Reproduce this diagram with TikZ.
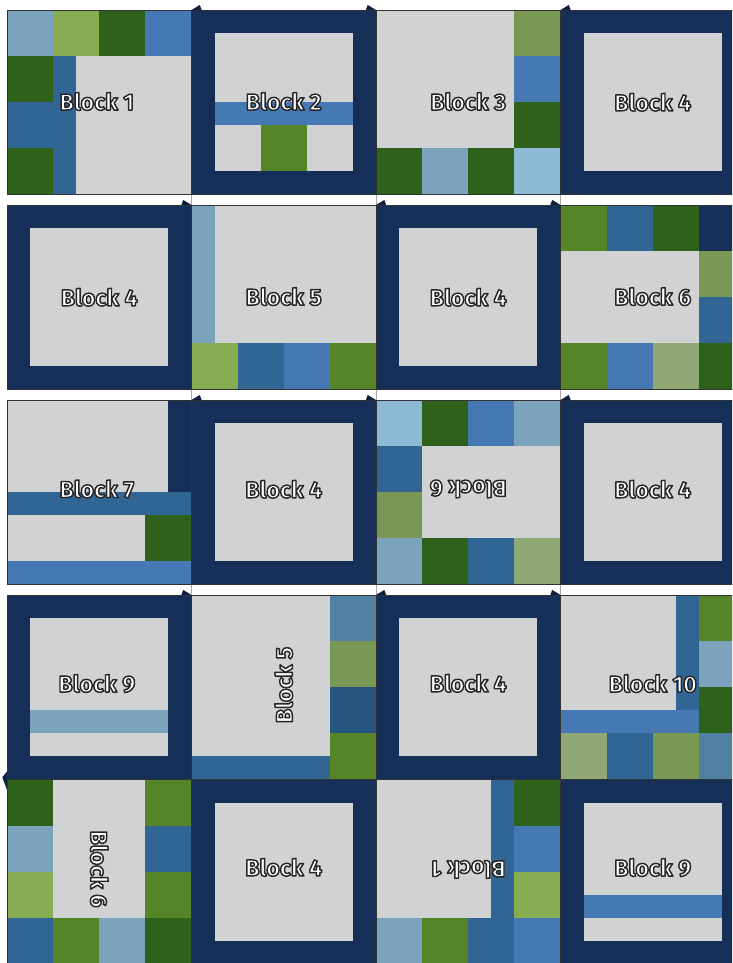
\documentclass[tikz,border=0pt]{standalone}
\usepackage{fontspec}
\newfontfamily\tagfont{Fira Sans}
% white letters with a dark rim, drawn as one text
\newcommand\rimmed[1]{\special{pdf:literal 0.15 0.15 0.15 RG 1.8 w 1 j 2 Tr}#1\special{pdf:literal 0 Tr}}
\definecolor{navy}{RGB}{21,47,89}
\definecolor{cloth}{RGB}{209,210,212}
\definecolor{darkgreen}{RGB}{46,97,25}
\definecolor{midgreen}{RGB}{86,132,40}
\definecolor{lightgreen}{RGB}{135,172,82}
\definecolor{sage}{RGB}{120,152,84}
\definecolor{graygreen}{RGB}{144,167,118}
\definecolor{bluegray}{RGB}{123,163,190}
\definecolor{sky}{RGB}{141,187,214}
\definecolor{medblue}{RGB}{70,121,180}
\definecolor{steel}{RGB}{48,101,148}
\definecolor{deepsteel}{RGB}{38,85,128}
\definecolor{slate}{RGB}{80,128,162}
\tikzset{
  seam/.style={draw=black!80, line width=0.8pt},
  tag/.style={text=white, font=\tagfont\bfseries\fontsize{28.5}{28.5}\selectfont},
  pennant/.style={fill=navy!70!black}
}
\begin{document}
\begin{tikzpicture}
 \useasboundingbox (0,-41.756) rectangle (31.74,0);
 \clip (0,-41.756) rectangle (31.74,0);
 % gaps between rows
 \foreach \x in {8.3035,16.3035,24.3035}
  \draw[gray!70, line width=0.6pt] (\x,-0.434) -- (\x,-33.8);
 % row 1
 \begin{scope}[shift={(0.3035,-8.434)}]
  \fill[cloth] (0,0) rectangle (8,8);
  \fill[bluegray] (0,6) rectangle (2,8);
  \fill[lightgreen] (2,6) rectangle (4,8);
  \fill[darkgreen] (4,6) rectangle (6,8);
  \fill[medblue] (6,6) rectangle (8,8);
  \fill[darkgreen] (0,4) rectangle (2,6);
  \fill[steel] (0,2) rectangle (3,4);
  \fill[darkgreen] (0,0) rectangle (2,2);
  \fill[steel] (2,0) rectangle (3,6);
 \end{scope}
 \begin{scope}[shift={(8.3035,-8.434)}]
  \fill[navy] (0,0) rectangle (8,8);
  \fill[cloth] (1,1) rectangle (7,7);
  \fill[medblue] (1,3) rectangle (7,4);
  \fill[midgreen] (3,1) rectangle (5,3);
 \end{scope}
 \begin{scope}[shift={(16.3035,-8.434)}]
  \fill[cloth] (0,0) rectangle (8,8);
  \fill[sage] (6,6) rectangle (8,8);
  \fill[medblue] (6,4) rectangle (8,6);
  \fill[darkgreen] (6,2) rectangle (8,4);
  \fill[darkgreen] (0,0) rectangle (2,2);
  \fill[bluegray] (2,0) rectangle (4,2);
  \fill[darkgreen] (4,0) rectangle (6,2);
  \fill[sky] (6,0) rectangle (8,2);
 \end{scope}
 % row 2
 \begin{scope}[shift={(8.3035,-16.889)}]
  \fill[cloth] (0,0) rectangle (8,8);
  \fill[bluegray] (0,2) rectangle (1,8);
  \fill[lightgreen] (0,0) rectangle (2,2);
  \fill[steel] (2,0) rectangle (4,2);
  \fill[medblue] (4,0) rectangle (6,2);
  \fill[midgreen] (6,0) rectangle (8,2);
 \end{scope}
 \begin{scope}[shift={(24.3035,-16.889)}]
  \fill[cloth] (0,0) rectangle (8,8);
  \fill[midgreen] (0,6) rectangle (2,8);
  \fill[steel] (2,6) rectangle (4,8);
  \fill[darkgreen] (4,6) rectangle (6,8);
  \fill[navy] (6,6) rectangle (8,8);
  \fill[sage] (6,4) rectangle (8,6);
  \fill[steel] (6,2) rectangle (8,4);
  \fill[midgreen] (0,0) rectangle (2,2);
  \fill[medblue] (2,0) rectangle (4,2);
  \fill[graygreen] (4,0) rectangle (6,2);
  \fill[darkgreen] (6,0) rectangle (8,2);
 \end{scope}
 % row 3
 \begin{scope}[shift={(0.3035,-25.344)}]
  \fill[cloth] (0,0) rectangle (8,8);
  \fill[navy] (7,4) rectangle (8,8);
  \fill[steel] (0,3) rectangle (8,4);
  \fill[darkgreen] (6,1) rectangle (8,3);
  \fill[medblue] (0,0) rectangle (8,1);
 \end{scope}
 \begin{scope}[shift={(16.3035,-25.344)}]
  \fill[cloth] (0,0) rectangle (8,8);
  \fill[sky] (0,6) rectangle (2,8);
  \fill[darkgreen] (2,6) rectangle (4,8);
  \fill[medblue] (4,6) rectangle (6,8);
  \fill[bluegray] (6,6) rectangle (8,8);
  \fill[steel] (0,4) rectangle (2,6);
  \fill[sage] (0,2) rectangle (2,4);
  \fill[bluegray] (0,0) rectangle (2,2);
  \fill[darkgreen] (2,0) rectangle (4,2);
  \fill[steel] (4,0) rectangle (6,2);
  \fill[graygreen] (6,0) rectangle (8,2);
 \end{scope}
 % row 4
 \begin{scope}[shift={(0.3035,-33.799)}]
  \fill[navy] (0,0) rectangle (8,8);
  \fill[cloth] (1,1) rectangle (7,7);
  \fill[bluegray] (1,2) rectangle (7,3);
 \end{scope}
 \begin{scope}[shift={(8.3035,-33.799)}]
  \fill[cloth] (0,0) rectangle (8,8);
  \fill[slate] (6,6) rectangle (8,8);
  \fill[sage] (6,4) rectangle (8,6);
  \fill[deepsteel] (6,2) rectangle (8,4);
  \fill[midgreen] (6,0) rectangle (8,2);
  \fill[steel] (0,0) rectangle (6,1);
 \end{scope}
 \begin{scope}[shift={(24.3035,-33.799)}]
  \fill[cloth] (0,0) rectangle (8,8);
  \fill[midgreen] (6,6) rectangle (8,8);
  \fill[bluegray] (6,4) rectangle (8,6);
  \fill[darkgreen] (6,2) rectangle (8,4);
  \fill[slate] (6,0) rectangle (8,2);
  \fill[steel] (5,3) rectangle (6,8);
  \fill[medblue] (0,2) rectangle (6,3);
  \fill[graygreen] (0,0) rectangle (2,2);
  \fill[steel] (2,0) rectangle (4,2);
  \fill[sage] (4,0) rectangle (6,2);
 \end{scope}
 % row 5
 \begin{scope}[shift={(0.3035,-41.799)}]
  \fill[cloth] (0,0) rectangle (8,8);
  \fill[darkgreen] (0,6) rectangle (2,8);
  \fill[bluegray] (0,4) rectangle (2,6);
  \fill[lightgreen] (0,2) rectangle (2,4);
  \fill[steel] (0,0) rectangle (2,2);
  \fill[midgreen] (6,6) rectangle (8,8);
  \fill[steel] (6,4) rectangle (8,6);
  \fill[midgreen] (6,2) rectangle (8,4);
  \fill[midgreen] (2,0) rectangle (4,2);
  \fill[bluegray] (4,0) rectangle (6,2);
  \fill[darkgreen] (6,0) rectangle (8,2);
 \end{scope}
 \begin{scope}[shift={(16.3035,-41.799)}]
  \fill[cloth] (0,0) rectangle (8,8);
  \fill[darkgreen] (6,6) rectangle (8,8);
  \fill[medblue] (6,4) rectangle (8,6);
  \fill[lightgreen] (6,2) rectangle (8,4);
  \fill[medblue] (6,0) rectangle (8,2);
  \fill[steel] (5,0) rectangle (6,8);
  \fill[bluegray] (0,0) rectangle (2,2);
  \fill[midgreen] (2,0) rectangle (4,2);
  \fill[steel] (4,0) rectangle (5,2);
 \end{scope}
 \begin{scope}[shift={(24.3035,-41.799)}]
  \fill[navy] (0,0) rectangle (8,8);
  \fill[cloth] (1,1) rectangle (7,7);
  \fill[medblue] (1,2) rectangle (7,3);
 \end{scope}
 % the plain framed blocks
 \foreach \bx/\by/\dy/\nm in {24.3035/-8.434/0/a, 0.3035/-16.889/0/b, 16.3035/-16.889/0/c,
   8.3035/-25.344/0.13/d, 24.3035/-25.344/0.13/e, 16.3035/-33.799/0.17/f, 8.3035/-41.799/0.19/g} {
  \begin{scope}[shift={(\bx,\by)}]
   \fill[navy] (0,0) rectangle (8,8);
   \fill[cloth] (1,1) rectangle (7,7);
   \node[tag] (blockfour\nm) at (4,4+\dy) {\rimmed{Block 4}};
  \end{scope}
 }
 % seams
 \foreach \by in {-8.434,-16.889,-25.344,-33.799,-41.799}
  \foreach \bx in {0.3035,8.3035,16.3035,24.3035}
   \draw[seam] (\bx,\by) rectangle ++(8,8);
 % labels
 \node[tag] (blockone) at (4.2,-4.4) {\rimmed{Block 1}};
 \node[tag] (blocktwo) at (12.3035,-4.4) {\rimmed{Block 2}};
 \node[tag] (blockthree) at (20.3035,-4.4) {\rimmed{Block 3}};
 \node[tag] (blockfive) at (12.3035,-12.86) {\rimmed{Block 5}};
 \node[tag] (blocksix) at (28.3035,-12.86) {\rimmed{Block 6}};
 \node[tag] (blockseven) at (4.2,-21.2) {\rimmed{Block 7}};
 \node[tag, rotate=180] (blocksixb) at (20.3035,-21.2) {\rimmed{Block 6}};
 \node[tag] (blocknine) at (4.2,-29.64) {\rimmed{Block 9}};
 \node[tag, rotate=90] (blockfiveb) at (12.3035,-29.7) {\rimmed{Block 5}};
 \node[tag] (blockten) at (28.3035,-29.64) {\rimmed{Block 10}};
 \node[tag, rotate=-90] (blocksixc) at (4.3035,-37.68) {\rimmed{Block 6}};
 \node[tag, rotate=180] (blockoneb) at (20.3035,-37.7) {\rimmed{Block 1}};
 \node[tag] (blocknineb) at (28.3035,-37.62) {\rimmed{Block 9}};
 % little marks on the row tops
 \foreach \px/\py/\d in {8.3035/-0.434/1, 16.3035/-0.434/-1, 24.3035/-0.434/1,
   8.3035/-8.889/-1, 16.3035/-8.889/1, 24.3035/-8.889/-1,
   8.3035/-17.344/1, 16.3035/-17.344/-1, 24.3035/-17.344/1,
   8.3035/-25.799/-1, 16.3035/-25.799/1, 24.3035/-25.799/-1}
  \fill[pennant] (\px,\py) -- ++(0.36*\d,0.22) -- (\px+0.44*\d,\py) -- cycle;
 \fill[pennant] (0.3035,-33.45) -- (0.1,-33.7) -- (0.3035,-34.25) -- cycle;
\end{tikzpicture}
\end{document}
